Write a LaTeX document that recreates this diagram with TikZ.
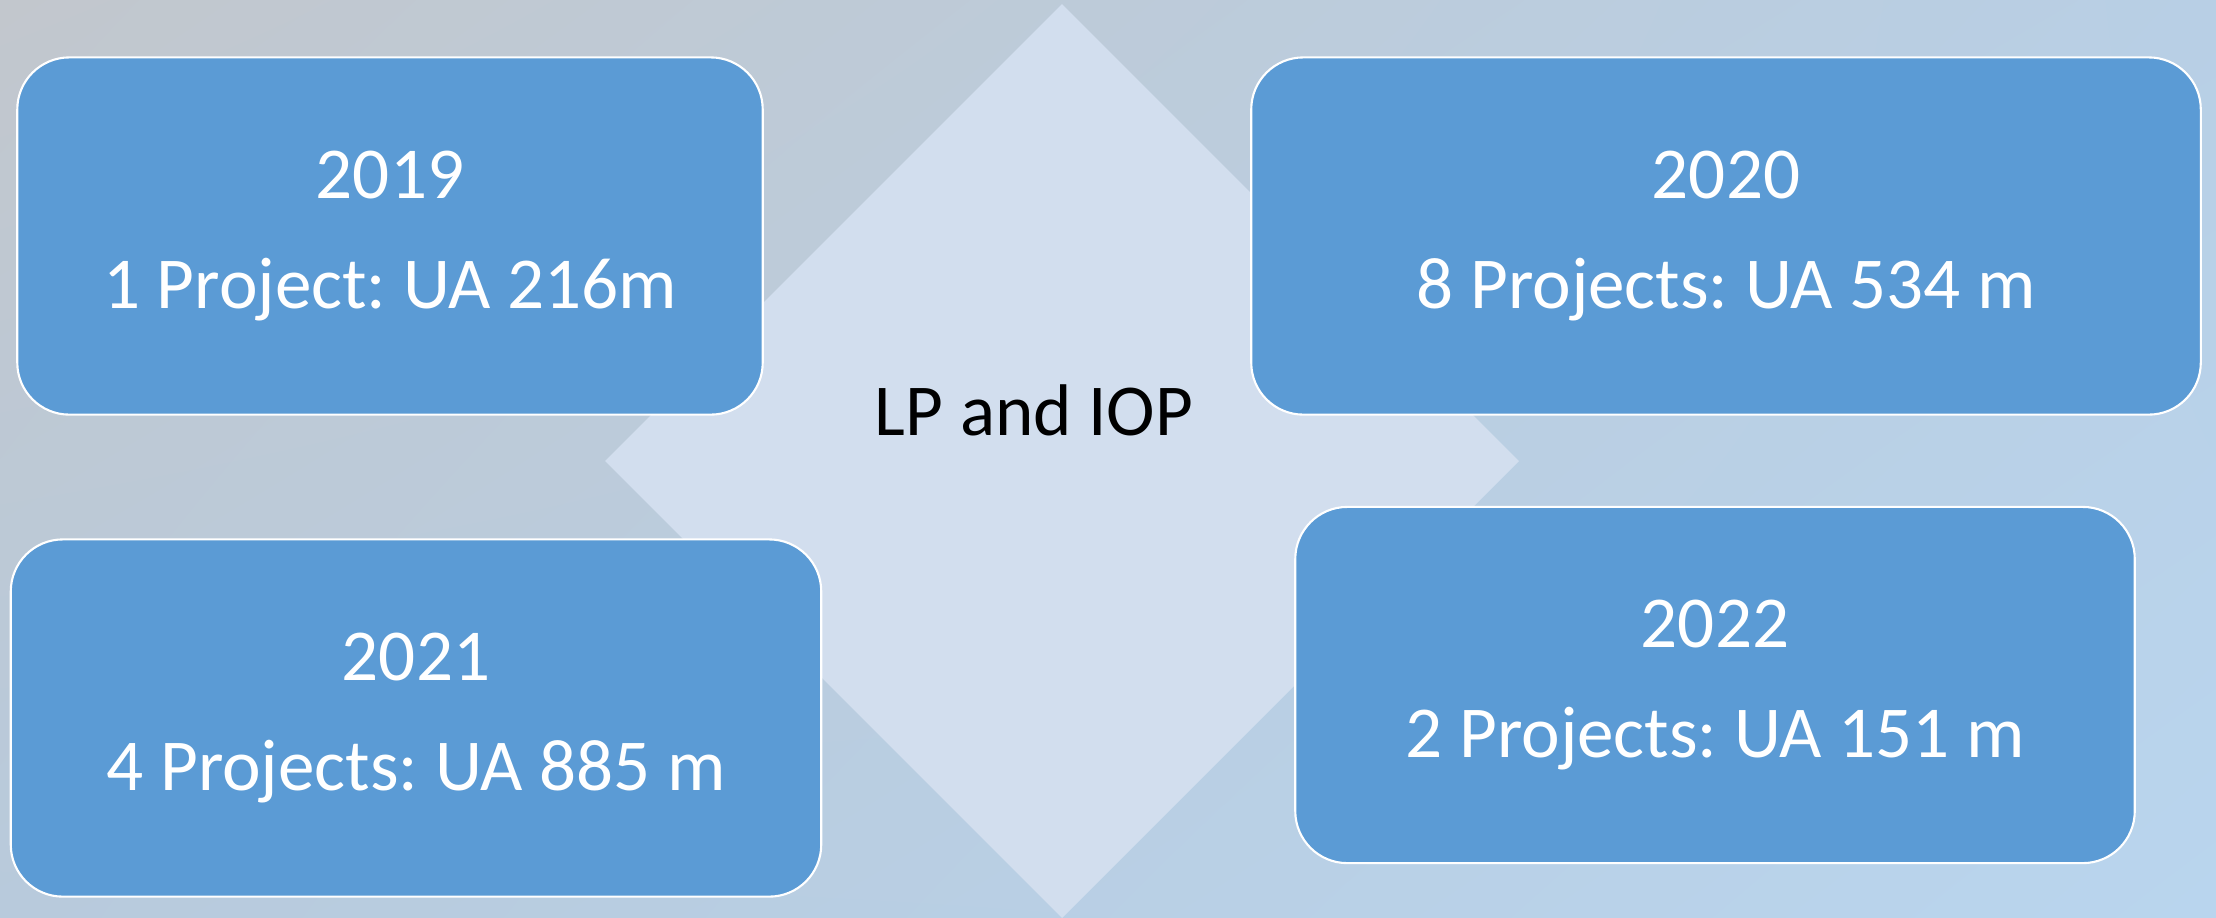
\documentclass[tikz,border=0pt]{standalone}
\usepackage{fontspec}
\setmainfont{Carlito}
\usepackage{tikz}
\usetikzlibrary{shapes.geometric,shadings}
\frenchspacing

\definecolor{boxblue}{HTML}{5B9BD5}
\definecolor{panelblue}{HTML}{D2DEEE}
\definecolor{bgtl}{HTML}{C2C7CD}
\definecolor{bgtr}{HTML}{B8CFE5}
\definecolor{bgbl}{HTML}{B8CADC}
\definecolor{bgbr}{HTML}{B9D5EE}

\begin{document}
\begin{tikzpicture}[
            x=0.01cm, y=-0.01cm,
            yearbox/.style={rounded corners=0.52cm, fill=boxblue, draw=white,
            line width=0.6pt, align=center, text=white, inner sep=0pt},
            backdiamond/.style={diamond, fill=panelblue, inner sep=0pt,
            minimum width=9.14cm, minimum height=9.14cm},
            every node/.style={font=\fontsize{20.8}{31.3}\selectfont}
            ]
            % background
            \shade[upper left=bgtl, upper right=bgtr, lower left=bgbl,
            lower right=bgbr] (0,0) rectangle (2216,917);
            \useasboundingbox (0,0) rectangle (2216,917);

            % centre
            \node[backdiamond] (core) at (1062,461) {};
            \node (lpiop) at (1034,410) {LP and IOP};

            % years
            \node[yearbox, minimum width=7.45cm, minimum height=3.57cm]
            (y2019) at (390,236) {2019\\1 Project: UA 216m};
            \node[yearbox, minimum width=9.49cm, minimum height=3.57cm]
            (y2020) at (1726,236) {2020\\8 Projects: UA 534 m};
            \node[yearbox, minimum width=8.10cm, minimum height=3.57cm]
            (y2021) at (416,718) {2021\\4 Projects: UA 885 m};
            \node[yearbox, minimum width=8.39cm, minimum height=3.56cm]
            (y2022) at (1715,685) {2022\\2 Projects: UA 151 m};

        \end{tikzpicture}
\end{document}
